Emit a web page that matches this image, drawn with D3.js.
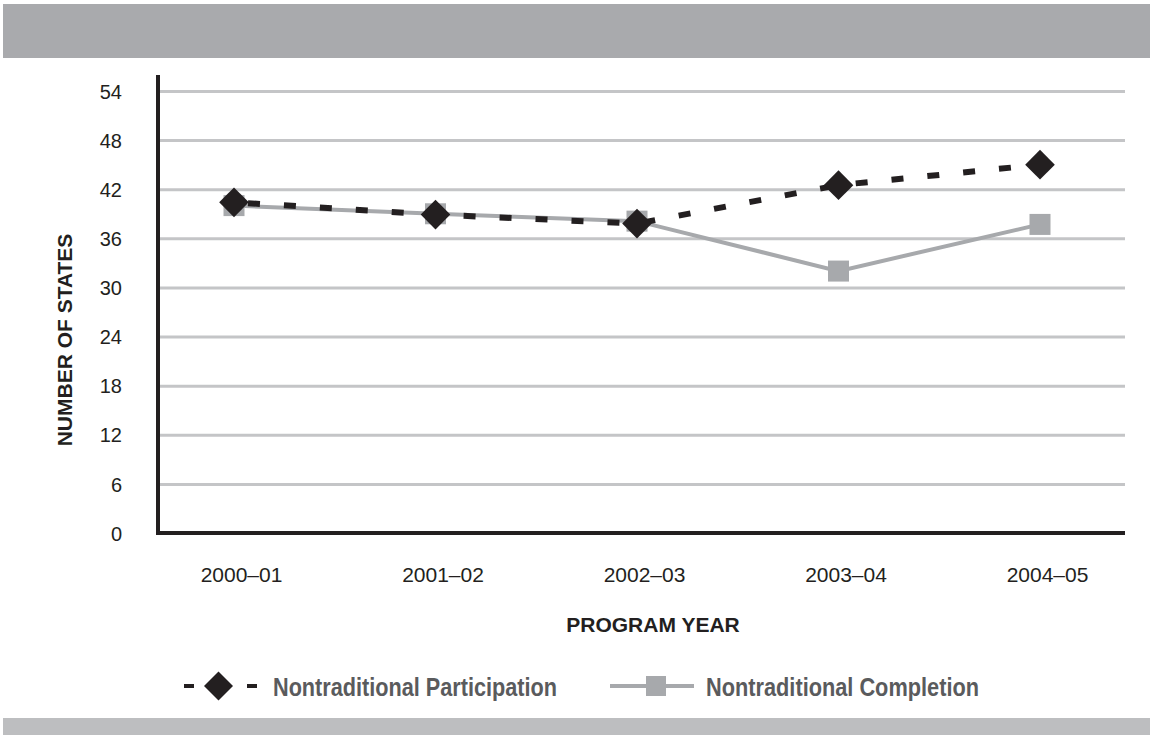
<!DOCTYPE html>
<html>
<head>
<meta charset="utf-8">
<script src="https://cdn.jsdelivr.net/npm/d3@7"></script>
<style>
  body { margin: 0; background: #fff; }
  svg { display: block; font-family: "Liberation Sans", Arial, sans-serif; }
</style>
</head>
<body>
<div id="chart"></div>
<script>
// chart values
var years = ["2000–01", "2001–02", "2002–03", "2003–04", "2004–05"];
var participation = [40.4, 38.9, 37.8, 42.5, 45.0];
var completion = [40.0, 39.0, 38.1, 32.0, 37.7];
var yTicks = [0, 6, 12, 18, 24, 30, 36, 42, 48, 54];
var seriesNames = ["Nontraditional Participation", "Nontraditional Completion"];

var W = 1154, H = 735;
var plotLeft = 158, plotRight = 1125, plotTop = 91, plotBottom = 533;

var svg = d3.select("#chart").append("svg")
    .attr("width", W)
    .attr("height", H);

// banners
svg.append("rect").attr("x", 3).attr("y", 4).attr("width", 1147).attr("height", 54).attr("fill", "#a9aaad");
svg.append("rect").attr("x", 3).attr("y", 718).attr("width", 1147).attr("height", 17).attr("fill", "#bdbec0");

var x = d3.scalePoint().domain(years).range([234, 1040]);
var y = d3.scaleLinear().domain([0, 54]).range([plotBottom, plotTop]);

// gridlines + y labels
var yAxis = d3.axisLeft(y)
    .tickValues(yTicks)
    .tickSize(-(plotRight - plotLeft))
    .tickPadding(36);

var gy = svg.append("g")
    .attr("transform", "translate(" + plotLeft + ",0)")
    .call(yAxis);
gy.select(".domain").remove();
gy.selectAll(".tick line")
    .attr("stroke", "#c4c5c7")
    .attr("stroke-width", 3)
    .filter(function(d) { return d === 0; }).remove();
gy.selectAll(".tick text")
    .attr("fill", "#231f20")
    .attr("dy", "0.36em")
    .style("font-size", "20px")
    .style("font-family", "'Liberation Sans', Arial, sans-serif");

// x labels
var xAxis = d3.axisBottom(x).tickSize(0).tickPadding(34);
var gx = svg.append("g")
    .attr("transform", "translate(7," + plotBottom + ")")
    .call(xAxis);
gx.select(".domain").remove();
gx.selectAll(".tick text")
    .attr("fill", "#231f20")
    .style("font-size", "21px")
    .style("font-family", "'Liberation Sans', Arial, sans-serif");

// axis lines
svg.append("line")
    .attr("x1", plotLeft).attr("x2", plotLeft)
    .attr("y1", 75).attr("y2", plotBottom + 2)
    .attr("stroke", "#231f20").attr("stroke-width", 4);
svg.append("line")
    .attr("x1", plotLeft - 2).attr("x2", plotRight)
    .attr("y1", plotBottom).attr("y2", plotBottom)
    .attr("stroke", "#231f20").attr("stroke-width", 4);

// axis titles
svg.append("text")
    .attr("x", 653).attr("y", 632)
    .attr("text-anchor", "middle")
    .attr("fill", "#231f20")
    .style("font-size", "21px").style("font-weight", "bold")
    .text("PROGRAM YEAR");

svg.append("text")
    .attr("transform", "translate(72,340) rotate(-90)")
    .attr("text-anchor", "middle")
    .attr("fill", "#231f20")
    .style("font-size", "21px").style("font-weight", "bold")
    .text("NUMBER OF STATES");

// lines
var line = d3.line()
    .x(function(d, i) { return x(years[i]); })
    .y(function(d) { return y(d); });

svg.append("path")
    .datum(completion)
    .attr("d", line)
    .attr("fill", "none")
    .attr("stroke", "#a7a9ac")
    .attr("stroke-width", 4);

var sq = 21;
svg.selectAll(".sq")
    .data(completion)
    .enter().append("rect")
    .attr("class", "sq")
    .attr("x", function(d, i) { return x(years[i]) - sq / 2; })
    .attr("y", function(d) { return y(d) - sq / 2; })
    .attr("width", sq).attr("height", sq)
    .attr("fill", "#a7a9ac");

svg.append("path")
    .datum(participation)
    .attr("d", line)
    .attr("fill", "none")
    .attr("stroke", "#231f20")
    .attr("stroke-width", 6)
    .attr("stroke-dasharray", "12,24")
    .attr("stroke-dashoffset", -14);

var diamond = d3.symbol().type(d3.symbolSquare).size(440);
svg.selectAll(".dm")
    .data(participation)
    .enter().append("path")
    .attr("class", "dm")
    .attr("d", diamond)
    .attr("transform", function(d, i) { return "translate(" + x(years[i]) + "," + y(d) + ") rotate(45)"; })
    .attr("fill", "#231f20");

// legend
var lg = svg.append("g");
var ly = 686;
lg.append("line").attr("x1", 184).attr("x2", 257).attr("y1", ly).attr("y2", ly)
    .attr("stroke", "#231f20").attr("stroke-width", 4).attr("stroke-dasharray", "10,53");
lg.append("path").attr("d", d3.symbol().type(d3.symbolSquare).size(420))
    .attr("transform", "translate(218.5," + ly + ") rotate(45)")
    .attr("fill", "#231f20");
lg.append("text").attr("x", 273).attr("y", 696)
    .attr("fill", "#5a5b5d")
    .attr("textLength", 284).attr("lengthAdjust", "spacingAndGlyphs")
    .style("font-size", "26px").style("font-weight", "bold")
    .text(seriesNames[0]);

lg.append("line").attr("x1", 610).attr("x2", 694).attr("y1", ly).attr("y2", ly)
    .attr("stroke", "#a7a9ac").attr("stroke-width", 4);
lg.append("rect").attr("x", 646).attr("y", ly - 10).attr("width", 20).attr("height", 20)
    .attr("fill", "#a7a9ac");
lg.append("text").attr("x", 706).attr("y", 696)
    .attr("fill", "#5a5b5d")
    .attr("textLength", 273).attr("lengthAdjust", "spacingAndGlyphs")
    .style("font-size", "26px").style("font-weight", "bold")
    .text(seriesNames[1]);
</script>
</body>
</html>
